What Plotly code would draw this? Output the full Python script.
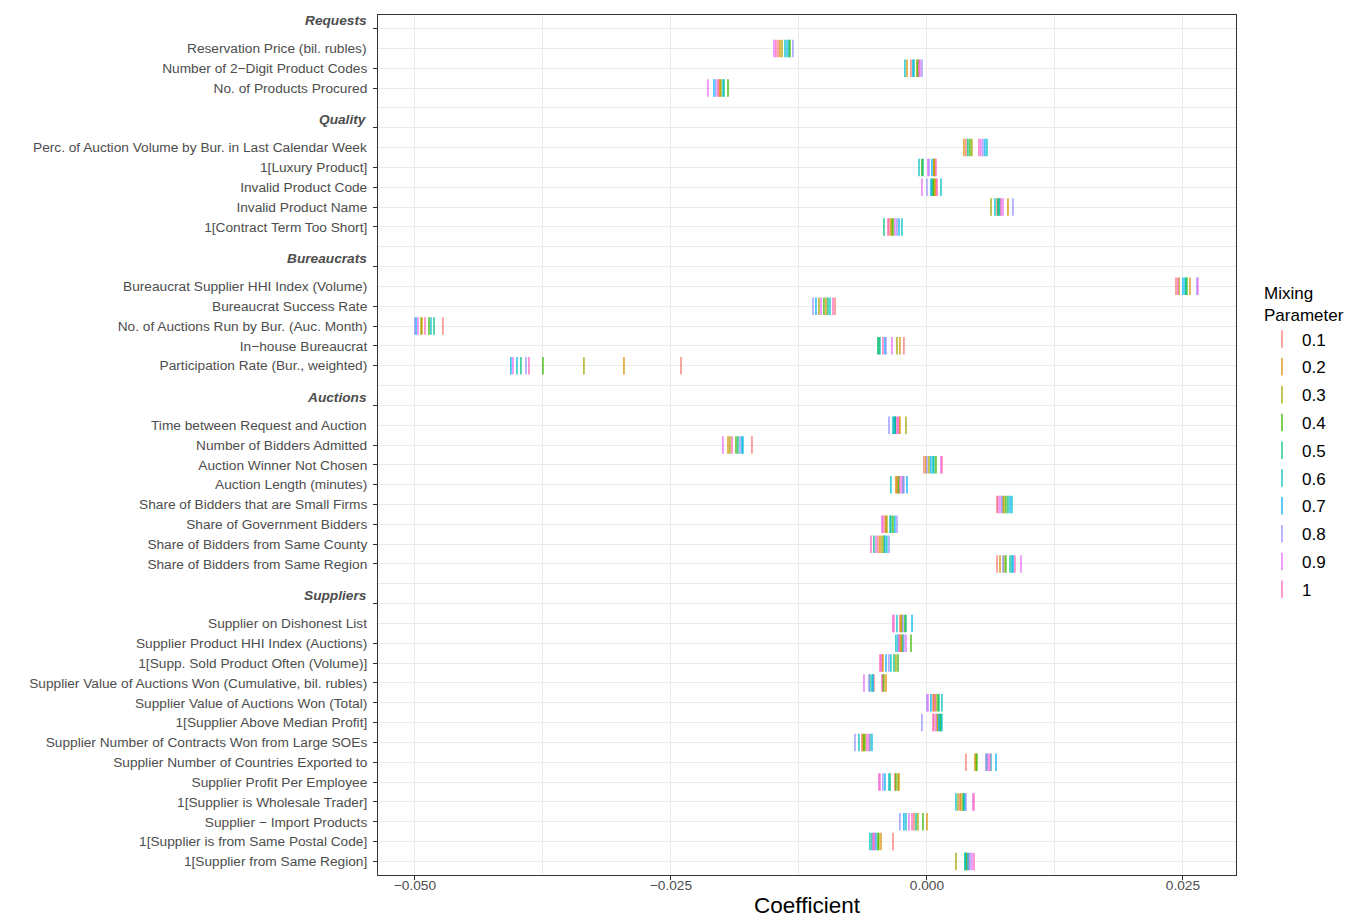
import plotly.graph_objects as go

# ---------------- data ----------------
groups = ["Requests", "Quality", "Bureaucrats", "Auctions", "Suppliers"]
requests_vars = ["Reservation Price (bil. rubles)", "Number of 2\u2212Digit Product Codes",
                 "No. of Products Procured"]
quality_vars = ["Perc. of Auction Volume by Bur. in Last Calendar Week", "1[Luxury Product]",
                "Invalid Product Code", "Invalid Product Name", "1[Contract Term Too Short]"]
bureaucrat_vars = ["Bureaucrat Supplier HHI Index (Volume)", "Bureaucrat Success Rate",
                   "No. of Auctions Run by Bur. (Auc. Month)", "In\u2212house Bureaucrat",
                   "Participation Rate (Bur., weighted)"]
auction_vars = ["Time between Request and Auction", "Number of Bidders Admitted",
                "Auction Winner Not Chosen", "Auction Length (minutes)",
                "Share of Bidders that are Small Firms", "Share of Government Bidders",
                "Share of Bidders from Same County", "Share of Bidders from Same Region"]
supplier_vars = ["Supplier on Dishonest List", "Supplier Product HHI Index (Auctions)",
                 "1[Supp. Sold Product Often (Volume)]",
                 "Supplier Value of Auctions Won (Cumulative, bil. rubles)",
                 "Supplier Value of Auctions Won (Total)", "1[Supplier Above Median Profit]",
                 "Supplier Number of Contracts Won from Large SOEs",
                 "Supplier Number of Countries Exported to", "Supplier Profit Per Employee",
                 "1[Supplier is Wholesale Trader]", "Supplier \u2212 Import Products",
                 "1[Supplier is from Same Postal Code]", "1[Supplier from Same Region]"]
group_vars = [requests_vars, quality_vars, bureaucrat_vars, auction_vars, supplier_vars]

mixing_labels = ["0.1", "0.2", "0.3", "0.4", "0.5", "0.6", "0.7", "0.8", "0.9", "1"]

# coefficients per mixing parameter, in variable order above
coef_01 = [-0.01455, -0.00156, -0.02031, 0.00381, 0.00078, 0.00088, 0.00684, -0.00371,
           0.02432, -0.00898, -0.04727, -0.00225, -0.02402,
           -0.00273, -0.01709, -0.00029, -0.00293, 0.00684, -0.00410, -0.00479, 0.00684,
           -0.00264, -0.00264, -0.00439, -0.00518, 0.00059, 0.00068, -0.00635, 0.00381,
           -0.00313, 0.00322, -0.00127, -0.00332, 0.00410]
coef_02 = [-0.01436, -0.00195, -0.02021, 0.00361, 0.00068, 0.00078, 0.00791, -0.00352,
           0.02568, -0.00986, -0.04932, -0.00264, -0.02959,
           -0.00264, -0.01943, -0.00010, -0.00303, 0.00742, -0.00400, -0.00459, 0.00713,
           -0.00254, -0.00254, -0.00430, -0.00400, 0.00068, 0.00098, -0.00625, 0.00469,
           -0.00273, 0.00332, 0.00000, -0.00449, 0.00391]
coef_03 = [-0.01416, -0.00098, -0.02012, 0.00439, 0.00068, 0.00068, 0.00625, -0.00342,
           0.02461, -0.01055, -0.04941, -0.00293, -0.03350,
           -0.00205, -0.01924, 0.00020, -0.00283, 0.00752, -0.00391, -0.00439, 0.00752,
           -0.00244, -0.00244, -0.00303, -0.00420, 0.00088, 0.00107, -0.00605, 0.00479,
           -0.00283, 0.00303, -0.00088, -0.00469, 0.00283]
coef_04 = [-0.01338, -0.00088, -0.01943, 0.00420, -0.00049, 0.00059, 0.00703, -0.00332,
           0.02539, -0.01006, -0.04863, -0.00469, -0.03750,
           -0.00308, -0.01865, 0.00088, -0.00273, 0.00771, -0.00332, -0.00420, 0.00771,
           -0.00215, -0.00156, -0.00283, -0.00430, 0.00107, 0.00127, -0.00615, 0.00488,
           -0.00303, 0.00352, -0.00039, -0.00479, 0.00381]
coef_05 = [-0.01348, -0.00127, -0.01982, 0.00400, -0.00039, 0.00049, 0.00693, -0.00420,
           0.02529, -0.00967, -0.04814, -0.00479, -0.03965,
           -0.00322, -0.01846, 0.00068, -0.00234, 0.00791, -0.00352, -0.00518, 0.00811,
           -0.00205, -0.00234, -0.00322, -0.00557, 0.00117, 0.00137, -0.00557, 0.00586,
           -0.00361, 0.00361, -0.00107, -0.00537, 0.00371]
coef_06 = [-0.01387, -0.00215, -0.01992, 0.00586, -0.00078, 0.00137, 0.00664, -0.00244,
           0.02520, -0.00947, -0.04844, -0.00459, -0.04004,
           -0.00332, -0.01797, 0.00059, -0.00352, 0.00830, -0.00361, -0.00391, 0.00830,
           -0.00293, -0.00303, -0.00352, -0.00537, 0.00146, 0.00146, -0.00664, 0.00625,
           -0.00371, 0.00283, -0.00205, -0.00557, 0.00376]
coef_07 = [-0.01367, -0.00137, -0.02080, 0.00566, 0.00049, 0.00039, 0.00713, -0.00273,
           0.02500, -0.01084, -0.04990, -0.00410, -0.04063,
           -0.00313, -0.01807, 0.00039, -0.00195, 0.00811, -0.00313, -0.00410, 0.00840,
           -0.00146, -0.00283, -0.00400, -0.00527, 0.00039, 0.00117, -0.00537, 0.00674,
           -0.00410, 0.00371, -0.00225, -0.00498, 0.00400]
coef_08 = [-0.01309, -0.00049, -0.02061, 0.00547, 0.00020, 0.00000, 0.00840, -0.00293,
           0.02637, -0.01113, -0.05000, -0.00400, -0.03916,
           -0.00371, -0.01826, 0.00000, -0.00225, 0.00732, -0.00293, -0.00371, 0.00742,
           -0.00234, -0.00225, -0.00371, -0.00566, 0.00000, -0.00049, -0.00703, 0.00576,
           -0.00430, 0.00381, -0.00264, -0.00508, 0.00420]
coef_09 = [-0.01494, -0.00068, -0.02139, 0.00527, 0.00010, -0.00049, 0.00742, -0.00313,
           0.02646, -0.01035, -0.04971, -0.00342, -0.04043,
           -0.00283, -0.01992, 0.00137, -0.00244, 0.00713, -0.00439, -0.00498, 0.00918,
           -0.00322, -0.00205, -0.00449, -0.00615, 0.00010, 0.00088, -0.00566, 0.00596,
           -0.00469, 0.00449, -0.00176, -0.00527, 0.00439]
coef_10 = [-0.01475, -0.00078, -0.02041, 0.00508, 0.00088, 0.00098, 0.00723, -0.00381,
           0.02451, -0.00918, -0.04902, -0.00430, -0.03887,
           -0.00293, -0.01904, 0.00146, -0.00264, 0.00693, -0.00430, -0.00547, 0.00859,
           -0.00332, -0.00273, -0.00459, -0.00439, 0.00078, 0.00059, -0.00586, 0.00615,
           -0.00459, 0.00459, -0.00146, -0.00518, 0.00459]
all_coefs = [coef_01, coef_02, coef_03, coef_04, coef_05,
             coef_06, coef_07, coef_08, coef_09, coef_10]

x_tickvals = [-0.05, -0.025, 0.0, 0.025]
x_ticktext = ["\u22120.050", "\u22120.025", "0.000", "0.025"]

# ---------------- style ----------------
colors = ["#F8766D", "#D89000", "#A3A500", "#39B600", "#00BF7D",
          "#00BFC4", "#00B0F6", "#9590FF", "#E76BF3", "#FF62BC"]
FONT = "Liberation Sans, Arial, sans-serif"
AXIS_TXT = "#4D4D4D"
TICK_SIZE = 13.7
Y_EXPAND = 0.686

# slot layout on a discrete axis: header, variables, blank spacer
var_slots, header_slots, blank_slots, first_slots = [], [], [], []
var_names = []
slot = 0
for gi, (g, vs) in enumerate(zip(groups, group_vars)):
    header_slots.append(slot)
    slot += 1
    for k, v in enumerate(vs):
        var_slots.append(slot)
        var_names.append(v)
        if k == 0:
            first_slots.append(slot)
        slot += 1
    if gi < len(groups) - 1:
        blank_slots.append(slot)
        slot += 1
all_slots = list(range(slot))

fig = go.Figure()
for lab, col, vals in zip(mixing_labels, colors, all_coefs):
    fig.add_trace(go.Scatter(
        x=vals, y=var_slots, mode="markers", name=lab, legendgroup=lab,
        marker=dict(symbol="line-ns", size=12.5, color=col,
                    line=dict(color=col, width=1.3)),
        showlegend=True,
    ))

# tick labels: ticks on headers + all non-first variables
tick_vals = list(header_slots)
tick_text = ["" for _ in header_slots]
for s, n in zip(var_slots, var_names):
    if s not in first_slots:
        tick_vals.append(s)
        tick_text.append(n)

annotations = []
for s, n in zip(var_slots, var_names):
    if s in first_slots:
        annotations.append(dict(x=0, xref="paper", y=s, yref="y", text=n, showarrow=False,
                                xanchor="right", yanchor="middle", xshift=-9,
                                font=dict(family=FONT, size=TICK_SIZE, color=AXIS_TXT)))
for s, g in zip(header_slots, groups):
    annotations.append(dict(x=0, xref="paper", y=s, yref="y", text="<b><i>" + g + "</i></b>",
                            showarrow=False, xanchor="right", yanchor="middle",
                            xshift=-9, yshift=8,
                            font=dict(family=FONT, size=TICK_SIZE, color=AXIS_TXT)))

fig.update_layout(
    width=1349, height=918,
    margin=dict(l=378, r=113, t=15, b=43, autoexpand=False),
    paper_bgcolor="white", plot_bgcolor="white",
    font=dict(family=FONT, color="black"),
    annotations=annotations,
    legend=dict(
        title=dict(text="Mixing<br>Parameter", font=dict(family=FONT, size=17, color="black")),
        font=dict(family=FONT, size=17, color="black"),
        x=1.0303, xanchor="left", y=0.695, yanchor="top",
        tracegroupgap=2.7, bgcolor="rgba(0,0,0,0)",
    ),
    xaxis=dict(
        range=[-0.05361, 0.03018], automargin=False,
        tickmode="array", tickvals=x_tickvals, ticktext=x_ticktext,
        ticks="outside", ticklen=4, tickwidth=1, tickcolor="#333333",
        tickfont=dict(family=FONT, size=TICK_SIZE, color=AXIS_TXT),
        showgrid=True, gridcolor="#EBEBEB", gridwidth=1,
        minor=dict(tickmode="array", tickvals=[-0.0375, -0.0125, 0.0125],
                   showgrid=True, gridcolor="#EBEBEB", gridwidth=1, ticks=""),
        showline=True, linecolor="#333333", linewidth=1, mirror=True,
        zeroline=False,
        title=dict(text="Coefficient", font=dict(family=FONT, size=22.5, color="black"),
                   standoff=8),
    ),
    yaxis=dict(
        range=[len(all_slots) - 1 + Y_EXPAND, -Y_EXPAND], automargin=False,
        tickmode="array", tickvals=tick_vals, ticktext=tick_text,
        ticks="outside", ticklen=4, tickwidth=1, tickcolor="#333333",
        tickfont=dict(family=FONT, size=TICK_SIZE, color=AXIS_TXT),
        showgrid=False,
        minor=dict(tickmode="array", tickvals=all_slots, showgrid=True,
                   gridcolor="#EBEBEB", gridwidth=1, ticks=""),
        showline=True, linecolor="#333333", linewidth=1, mirror=True,
        zeroline=False,
    ),
)
try:
    fig.layout.yaxis.ticklabelstandoff = 3
except Exception:
    pass
try:
    fig.layout.xaxis.ticklabelstandoff = -6
except Exception:
    pass

fig.write_html("out.html",
               config={"displayModeBar": False, "staticPlot": True},
               post_script="document.body.style.margin='0';document.body.style.overflow='hidden';")
